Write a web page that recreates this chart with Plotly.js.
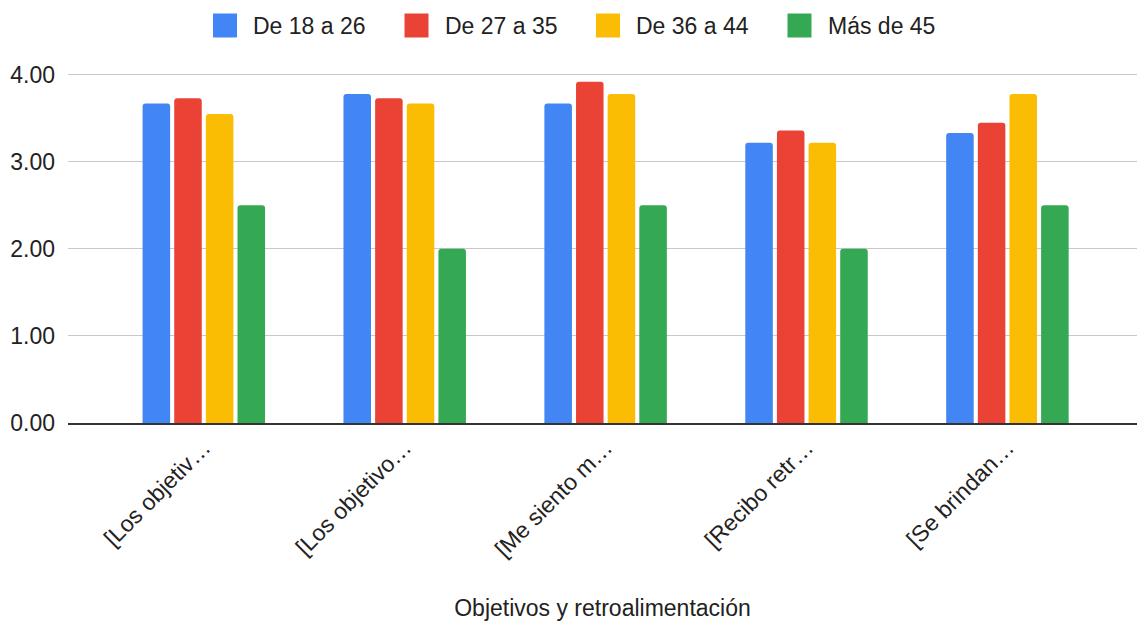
<!DOCTYPE html>
<html>
<head>
<meta charset="utf-8">
<script src="https://cdn.plot.ly/plotly-3.0.1.min.js"></script>
<style>
  html, body { margin: 0; padding: 0; background: #ffffff; }
  #chart { width: 1137px; height: 623px; }
</style>
</head>
<body>
<div id="chart"></div>
<script>
// Categories (truncated question labels) and average score per age group
const categories = ["[Los objetiv…", "[Los objetivo…", "[Me siento m…", "[Recibo retr…", "[Se brindan…"];
const seriesNames = ["De 18 a 26", "De 27 a 35", "De 36 a 44", "Más de 45"];
const age18to26 = [3.67, 3.78, 3.67, 3.22, 3.33];
const age27to35 = [3.73, 3.73, 3.92, 3.36, 3.45];
const age36to44 = [3.55, 3.67, 3.78, 3.22, 3.78];
const age45plus = [2.50, 2.00, 2.50, 2.00, 2.50];
const yTickValues = [0, 1, 2, 3, 4];
const xAxisTitle = "Objetivos y retroalimentación";
const seriesColors = ["#4285F4", "#EA4335", "#FBBC04", "#34A853"];

const seriesValues = [age18to26, age27to35, age36to44, age45plus];

// Page geometry
const W = 1137, H = 623;
const M = { l: 68, r: 0, t: 73, b: 200 };
const plotW = W - M.l - M.r;
const plotH = H - M.t - M.b;
const paperX = px => (px - M.l) / plotW;
const paperY = py => (H - M.b - py) / plotH;

const FONT = "Liberation Sans, Arial, Helvetica, sans-serif";
const TEXT = "#222222";

const traces = seriesNames.map((name, i) => ({
  type: "bar",
  name: name,
  x: categories,
  y: seriesValues[i],
  marker: { color: seriesColors[i], cornerradius: 3 },
  hoverinfo: "x+y+name",
  showlegend: false
}));

// Legend row across the top: colour swatch + series name
const legendStart = 213, legendStep = 191.5, swatch = 24, swatchTop = 13.5, textOffset = 38;
const shapes = seriesNames.map((name, i) => ({
  type: "rect",
  xref: "paper", yref: "paper",
  x0: paperX(legendStart + i * legendStep),
  x1: paperX(legendStart + i * legendStep + swatch),
  y0: paperY(swatchTop + swatch),
  y1: paperY(swatchTop),
  fillcolor: seriesColors[i],
  line: { width: 0 }
}));
const annotations = seriesNames.map((name, i) => ({
  xref: "paper", yref: "paper",
  x: paperX(legendStart + i * legendStep + textOffset),
  y: paperY(swatchTop + swatch / 2),
  xanchor: "left", yanchor: "middle",
  text: name,
  showarrow: false,
  font: { family: FONT, size: 23, color: TEXT }
}));

const layout = {
  width: W, height: H,
  margin: M,
  paper_bgcolor: "#ffffff",
  plot_bgcolor: "#ffffff",
  barmode: "group",
  bargap: 0.37,
  bargroupgap: 0.13,
  showlegend: false,
  font: { family: FONT, size: 23, color: TEXT },
  xaxis: {
    type: "category",
    range: [-0.676, 4.645],
    tickangle: -45,
    tickfont: { family: FONT, size: 23, color: TEXT },
    showgrid: false,
    showline: true,
    linecolor: "#333333",
    linewidth: 2,
    ticks: "",
    automargin: false,
    title: { text: xAxisTitle, font: { family: FONT, size: 23, color: TEXT }, standoff: 39 }
  },
  yaxis: {
    range: [0, 4.02],
    tickvals: yTickValues,
    tickformat: ".2f",
    tickfont: { family: FONT, size: 23, color: TEXT },
    showgrid: true,
    gridcolor: "#c8c8c8",
    gridwidth: 1,
    zeroline: false,
    showline: false,
    ticks: "",
    ticklabelstandoff: 12,
    automargin: false
  },
  shapes: shapes,
  annotations: annotations
};

Plotly.newPlot("chart", traces, layout, { displayModeBar: false, staticPlot: true });
</script>
</body>
</html>
